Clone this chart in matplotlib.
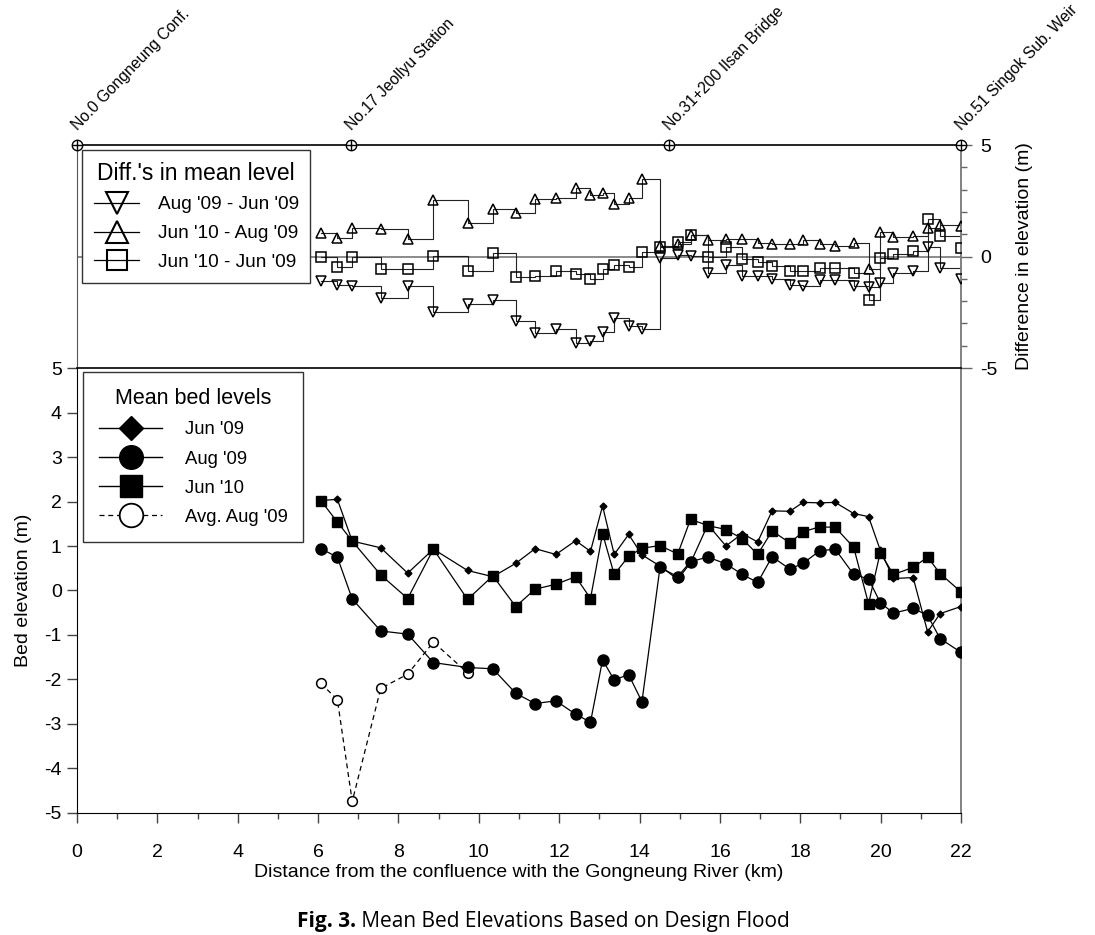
import matplotlib
matplotlib.use("Agg")
import matplotlib.pyplot as plt
from matplotlib.lines import Line2D
from matplotlib.ticker import MultipleLocator

plt.rcParams['font.family'] = ['Liberation Sans', 'DejaVu Sans']
plt.rcParams['axes.unicode_minus'] = False

# distance of each surveyed section (km)
dist = [6.07, 6.48, 6.85, 7.56, 8.23, 8.87, 9.72, 10.35, 10.92, 11.40, 11.92, 12.41,
        12.78, 13.08, 13.37, 13.73, 14.06, 14.51, 14.95, 15.27, 15.70, 16.15, 16.56,
        16.94, 17.30, 17.74, 18.07, 18.48, 18.87, 19.33, 19.70, 19.99, 20.32, 20.81,
        21.17, 21.48, 22.00]

# mean bed levels (m)
jun09 = [2.02, 2.05, 1.11, 0.96, 0.39, 0.93, 0.45, 0.31, 0.61, 0.94, 0.81, 1.12,
         0.88, 1.90, 0.81, 1.26, 0.80, 0.55, 0.25, 0.62, 1.48, 1.00, 1.28, 1.09,
         1.79, 1.78, 1.98, 1.97, 1.98, 1.73, 1.66, 0.91, 0.27, 0.29, -0.93, -0.52, -0.36]
aug09 = [0.94, 0.75, -0.19, -0.91, -0.98, -1.62, -1.73, -1.76, -2.31, -2.54, -2.48, -2.78,
         -2.96, -1.56, -2.01, -1.89, -2.50, 0.52, 0.31, 0.65, 0.75, 0.60, 0.36, 0.18,
         0.76, 0.48, 0.61, 0.89, 0.93, 0.36, 0.26, -0.27, -0.51, -0.40, -0.56, -1.08, -1.39]
jun10 = [2.02, 1.54, 1.11, 0.35, -0.18, 0.93, -0.20, 0.33, -0.36, 0.03, 0.14, 0.31,
         -0.18, 1.28, 0.36, 0.77, 0.95, 1.01, 0.82, 1.60, 1.46, 1.37, 1.16, 0.81,
         1.34, 1.07, 1.32, 1.43, 1.42, 0.97, -0.30, 0.85, 0.36, 0.52, 0.75, 0.38, -0.03]

avg_dist = [6.07, 6.48, 6.85, 7.56, 8.23, 8.87, 9.72]
avg_aug09 = [-2.09, -2.45, -4.74, -2.20, -1.88, -1.16, -1.85]

# differences in mean level (m)
d_aug09_jun09 = [-1.11, -1.26, -1.30, -1.85, -1.33, -2.50, -2.15, -1.96, -2.87, -3.42, -3.27, -3.87,
                 -3.77, -3.39, -2.77, -3.13, -3.27, -0.06, 0.09, 0.04, -0.73, -0.36, -0.88, -0.88,
                 -0.99, -1.26, -1.33, -1.06, -1.06, -1.30, -1.36, -1.18, -0.76, -0.66, 0.42, -0.51, -0.99]
d_jun10_aug09 = [1.06, 0.84, 1.29, 1.24, 0.79, 2.53, 1.51, 2.11, 1.93, 2.56, 2.62, 3.08,
                 2.78, 2.86, 2.36, 2.63, 3.48, 0.46, 0.54, 0.97, 0.72, 0.79, 0.79, 0.61,
                 0.54, 0.54, 0.73, 0.54, 0.46, 0.60, -0.58, 1.11, 0.88, 0.91, 1.29, 1.43, 1.36]
d_jun10_jun09 = [-0.03, -0.46, -0.01, -0.58, -0.55, 0.01, -0.64, 0.16, -0.94, -0.88, -0.66, -0.79,
                 -1.03, -0.58, -0.40, -0.46, 0.19, 0.43, 0.64, 0.97, -0.03, 0.42, -0.10, -0.25,
                 -0.43, -0.67, -0.63, -0.51, -0.52, -0.73, -1.96, -0.08, 0.13, 0.26, 1.69, 0.91, 0.37]

station_km = [0.0, 6.82, 14.73, 22.0]
station_names = ["No.0 Gongneung Conf.", "No.17 Jeollyu Station",
                 "No.31+200 Ilsan Bridge", "No.51 Singok Sub. Weir"]

fig = plt.figure(figsize=(10.95, 9.35), dpi=100)
ax_top = fig.add_axes([0.0703, 0.6064, 0.8073, 0.2385])
ax = fig.add_axes([0.0703, 0.1305, 0.8073, 0.4759])

# ---- top panel: differences
ax_top.axhline(0, color='#777777', lw=1.2, zorder=1)
for vals, mk in [(d_aug09_jun09, 'v'), (d_jun10_aug09, '^'), (d_jun10_jun09, 's')]:
    ax_top.step(dist, vals, where='post', color='#222222', lw=0.8, zorder=2)
    ax_top.plot(dist, vals, ls='none', marker=mk, ms=7 if mk != 's' else 7.5,
                mfc='none', mec='k', mew=1.1, zorder=3)

ax_top.set_xlim(0, 22)
ax_top.set_ylim(-5, 5)
ax_top.set_xticks([])
ax_top.yaxis.tick_right()
ax_top.yaxis.set_label_position('right')
ax_top.yaxis.set_major_locator(MultipleLocator(5))
ax_top.yaxis.set_minor_locator(MultipleLocator(1))
ax_top.tick_params(axis='y', which='major', direction='out', length=8, width=1,
                   labelsize=14, pad=6, color='#666666')
ax_top.tick_params(axis='y', which='minor', direction='out', length=4.5, width=1,
                   color='#666666')
ax_top.set_ylabel("Difference in elevation (m)", fontsize=14, labelpad=13)
ax_top.spines['bottom'].set_visible(False)
ax_top.spines['right'].set_color('#777777')
ax_top.spines['right'].set_linewidth(1.3)
ax_top.spines['top'].set_linewidth(1.2)
ax_top.spines['left'].set_color('#555555')

# station markers along the top edge
ax_top.plot(station_km, [5] * 4, ls='none', marker='o', ms=7.5, mfc='white',
            mec='k', mew=1, clip_on=False, zorder=5)
ax_top.plot(station_km, [5] * 4, ls='none', marker='+', ms=7.5, mec='k',
            mew=1, clip_on=False, zorder=6)
for km, name in zip(station_km, station_names):
    ax_top.annotate(name, xy=(km, 5), xytext=(2, 9), textcoords='offset points',
                    rotation=46, rotation_mode='anchor', ha='left', va='bottom',
                    fontsize=11.3, annotation_clip=False)

top_handles = [
    Line2D([], [], color='k', lw=0.9, marker='v', ms=16, mfc='none', mec='k', mew=1.5),
    Line2D([], [], color='k', lw=0.9, marker='^', ms=16, mfc='none', mec='k', mew=1.5),
    Line2D([], [], color='k', lw=0.9, marker='s', ms=15, mfc='none', mec='k', mew=1.5),
]
leg1 = ax_top.legend(top_handles, ["Aug '09 - Jun '09", "Jun '10 - Aug '09", "Jun '10 - Jun '09"],
                     title="Diff.'s in mean level", loc='upper left',
                     bbox_to_anchor=(0.0057, 0.978), borderaxespad=0, fontsize=13.7,
                     title_fontsize=16.5, handlelength=2.4, labelspacing=0.6,
                     handletextpad=0.95, borderpad=0.62, fancybox=False,
                     framealpha=1, edgecolor='#333333')
leg1.get_frame().set_linewidth(1)
leg1.set_zorder(10)

# ---- bottom panel: mean bed levels
ax.plot(avg_dist, avg_aug09, color='k', lw=0.9, ls=(0, (4, 3)), marker='o', ms=7,
        mfc='white', mec='k', mew=1.1, zorder=2)
ax.plot(dist, jun09, color='k', lw=0.9, marker='D', ms=3.5, zorder=3)
ax.plot(dist, aug09, color='k', lw=0.9, marker='o', ms=8, zorder=4)
ax.plot(dist, jun10, color='k', lw=0.9, marker='s', ms=7.5, zorder=5)

ax.set_xlim(0, 22)
ax.set_ylim(-5, 5)
ax.xaxis.set_major_locator(MultipleLocator(2))
ax.xaxis.set_minor_locator(MultipleLocator(1))
ax.yaxis.set_major_locator(MultipleLocator(1))
ax.tick_params(axis='both', which='major', direction='out', length=7.5, width=1,
               labelsize=14, color='#444444')
ax.tick_params(axis='x', which='minor', direction='out', length=4, width=1, color='#444444')
ax.tick_params(axis='x', which='major', pad=15)
ax.set_xlabel("Distance from the confluence with the Gongneung River (km)",
              fontsize=14, labelpad=2)
ax.set_ylabel("Bed elevation (m)", fontsize=14, labelpad=9)
ax.spines['right'].set_color('#777777')
ax.spines['right'].set_linewidth(1.3)
ax.spines['top'].set_linewidth(1.2)

bot_handles = [
    Line2D([], [], color='k', lw=1, marker='D', ms=12.5),
    Line2D([], [], color='k', lw=1, marker='o', ms=17),
    Line2D([], [], color='k', lw=1, marker='s', ms=16),
    Line2D([], [], color='k', lw=0.9, ls=(0, (4, 3)), marker='o', ms=17, mfc='white', mew=1.3),
]
leg2 = ax.legend(bot_handles, ["Jun '09", "Aug '09", "Jun '10", "Avg. Aug '09"],
                 title="Mean bed levels", loc='upper left',
                 bbox_to_anchor=(0.0068, 0.99), borderaxespad=0, fontsize=13.3,
                 title_fontsize=15.5, handlelength=3.45, labelspacing=0.66,
                 handletextpad=1.2, borderpad=0.85, fancybox=False,
                 framealpha=1, edgecolor='#333333')
leg2.get_frame().set_linewidth(1)

# caption, bold figure number followed by the title
cap_y = 1 - 927 / 935
cap = fig.text(297 / 1095, cap_y, "Fig. 3.", fontsize=15, weight='bold',
               family=['Open Sans', 'DejaVu Sans'], ha='left', va='baseline')
fig.canvas.draw()
bb = cap.get_window_extent()
fig.text(bb.x1 / fig.bbox.width, cap_y, " Mean Bed Elevations Based on Design Flood",
         fontsize=15, family=['Open Sans', 'DejaVu Sans'], ha='left', va='baseline')

fig.savefig("out.png", dpi=100, facecolor='white')
